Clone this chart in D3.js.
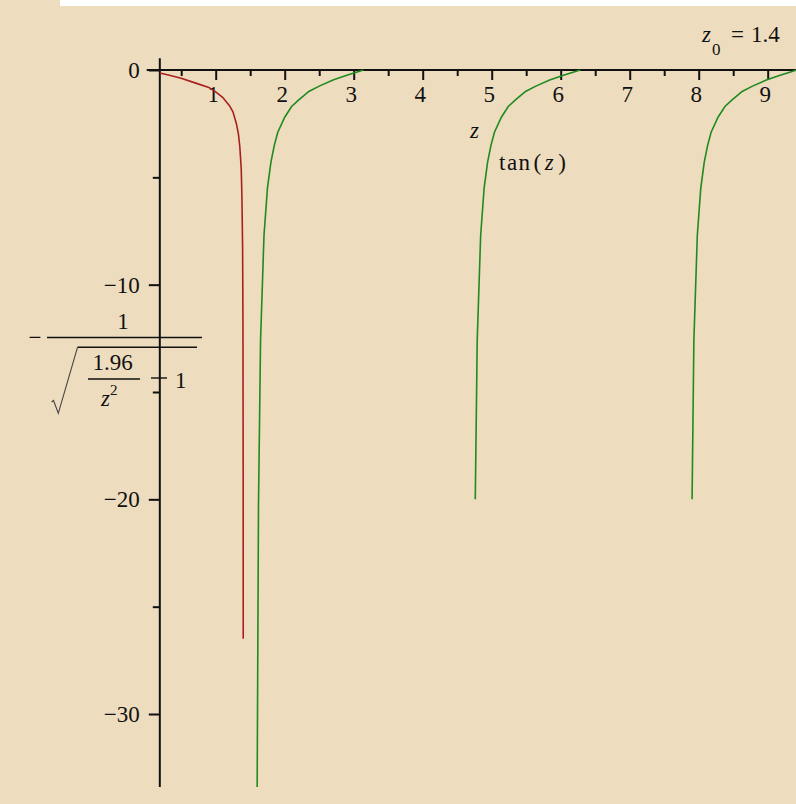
<!DOCTYPE html>
<html>
<head>
<meta charset="utf-8">
<script src="https://cdn.jsdelivr.net/npm/d3@7"></script>
<style>
  html, body { margin: 0; padding: 0; background: #fff; }
  #chart { width: 796px; height: 804px; }
  svg text { font-family: "Liberation Serif", "Times New Roman", serif; fill: #111; }
</style>
</head>
<body>
<div id="chart"></div>
<script>
// tick labels
const xTicks = [1, 2, 3, 4, 5, 6, 7, 8, 9];
const xMinorTicks = [0.5, 1.5, 2.5, 3.5, 4.5, 5.5, 6.5, 7.5, 8.5];
const yTicks = [0, -10, -20, -30];
const yMinorTicks = [-5, -15, -25];

// -1/sqrt(1.96/z^2 - 1)
const redZ = [0.19, 0.3, 0.5, 0.7, 0.9, 1.0, 1.1, 1.2, 1.25, 1.3, 1.33, 1.35, 1.37, 1.38, 1.39, 1.395, 1.398, 1.399];
const redV = [-0.14, -0.22, -0.38, -0.60, -0.81, -1.02, -1.27, -1.66, -1.95, -2.5, -3.0, -3.6, -4.6, -5.9, -8.3, -11.8, -18.7, -26.5];

// tan(z), three branches
const tan1Z = [1.601, 1.62, 1.65, 1.70, 1.75, 1.80, 1.85, 1.90, 2.00, 2.10, 2.20, 2.35, 2.50, 2.70, 2.90, 3.05, 3.14];
const tan1V = [-33.4, -20.3, -12.6, -7.7, -5.5, -4.3, -3.5, -2.9, -2.2, -1.7, -1.4, -1.0, -0.75, -0.47, -0.25, -0.09, 0];
const tan2Z = [4.762, 4.79, 4.84, 4.89, 4.94, 4.99, 5.04, 5.14, 5.24, 5.34, 5.49, 5.64, 5.84, 6.04, 6.19, 6.283];
const tan2V = [-20.0, -12.6, -7.7, -5.5, -4.3, -3.5, -2.9, -2.2, -1.7, -1.4, -1.0, -0.75, -0.47, -0.25, -0.09, 0];
const tan3Z = [7.904, 7.93, 7.98, 8.03, 8.08, 8.13, 8.18, 8.28, 8.38, 8.48, 8.63, 8.78, 8.98, 9.18, 9.33, 9.42];
const tan3V = [-20.0, -12.6, -7.7, -5.5, -4.3, -3.5, -2.9, -2.2, -1.7, -1.4, -1.0, -0.75, -0.47, -0.25, -0.09, 0];

const zMin = 0, zMax = 9.43;      // x view
const yAxisAt = 0.19;             // where the vertical axis is drawn
const vTop = 0.55, vBottom = -33.4;

const svgWidth = 796, svgHeight = 804;
const fontSize = "23px";

const svg = d3.select("#chart")
  .append("svg")
  .attr("width", svgWidth)
  .attr("height", svgHeight);

// background
svg.append("rect")
  .attr("width", svgWidth)
  .attr("height", svgHeight)
  .attr("fill", "#eedcbe");

svg.append("rect")
  .attr("x", 60)
  .attr("width", svgWidth - 60)
  .attr("height", 6)
  .attr("fill", "#fff");

// scales
const x = d3.scaleLinear().domain([1, 9]).range([215.7, 767.7]);
const y = d3.scaleLinear().domain([0, -30]).range([70, 714]);

// x axis
const xAxisG = svg.append("g").attr("transform", `translate(0, ${y(0)})`);

xAxisG.append("g")
  .call(d3.axisBottom(x).tickValues(xTicks).tickSize(10).tickPadding(6).tickFormat(d3.format("d")))
  .call(g => g.select(".domain").remove());

xAxisG.append("g")
  .call(d3.axisBottom(x).tickValues(xMinorTicks).tickSize(6).tickFormat(""))
  .call(g => g.select(".domain").remove());

xAxisG.append("line")
  .attr("x1", x(zMin))
  .attr("x2", x(zMax))
  .attr("stroke", "#111")
  .attr("stroke-width", 2);

// y axis
const yAxisG = svg.append("g").attr("transform", `translate(${x(yAxisAt)}, 0)`);

yAxisG.append("g")
  .call(d3.axisLeft(y).tickValues(yTicks).tickSize(11).tickPadding(9).tickFormat(d => d === 0 ? "0" : "\u2212" + Math.abs(d)))
  .call(g => g.select(".domain").remove());

yAxisG.append("g")
  .call(d3.axisLeft(y).tickValues(yMinorTicks).tickSize(7).tickFormat(""))
  .call(g => g.select(".domain").remove());

yAxisG.append("line")
  .attr("y1", y(vTop))
  .attr("y2", y(vBottom))
  .attr("stroke", "#111")
  .attr("stroke-width", 2);

svg.selectAll(".tick line").attr("stroke", "#111").attr("stroke-width", 2);
svg.selectAll(".tick text")
  .style("font-size", fontSize)
  .style("font-family", "'Liberation Serif', serif")
  .attr("fill", "#111");
xAxisG.selectAll(".tick text").attr("dx", "-3");

// curves
const line = d3.line()
  .x(d => x(d[0]))
  .y(d => y(d[1]));

const zip = (zs, vs) => zs.map((z, i) => [z, vs[i]]);

svg.append("path")
  .datum(zip(redZ, redV))
  .attr("fill", "none")
  .attr("stroke", "#a8201e")
  .attr("stroke-width", 1.6)
  .attr("d", line);

[zip(tan1Z, tan1V), zip(tan2Z, tan2V), zip(tan3Z, tan3V)].forEach(branch => {
  svg.append("path")
    .datum(branch)
    .attr("fill", "none")
    .attr("stroke", "#1f8a1f")
    .attr("stroke-width", 1.6)
    .attr("d", line);
});

// curve labels
svg.append("text")
  .attr("x", 470)
  .attr("y", 138)
  .style("font-size", fontSize)
  .style("font-style", "italic")
  .text("z");

const tanLabel = svg.append("text")
  .attr("x", 499)
  .attr("y", 170)
  .style("font-size", fontSize)
  .style("letter-spacing", "1.5px");
tanLabel.append("tspan").text("tan");
tanLabel.append("tspan").attr("dx", 2).text("(");
tanLabel.append("tspan").attr("dx", 2).style("font-style", "italic").text("z");
tanLabel.append("tspan").attr("dx", 3).text(")");

// title z0 = 1.4
const title = svg.append("text")
  .attr("y", 42)
  .style("font-size", fontSize);
title.append("tspan").attr("x", 702).style("font-style", "italic").text("z");
title.append("tspan").attr("x", 712).attr("dy", 13).style("font-size", "17px").text("0");
title.append("tspan").attr("x", 731).attr("dy", -13).text("=");
title.append("tspan").attr("x", 751).text("1.4");

// y axis label: -1/sqrt(1.96/z^2 - 1)
const lab = svg.append("g");

lab.append("text")
  .attr("x", 35)
  .attr("y", 345)
  .attr("text-anchor", "middle")
  .style("font-size", fontSize)
  .text("\u2212");

lab.append("text")
  .attr("x", 123)
  .attr("y", 329)
  .attr("text-anchor", "middle")
  .style("font-size", fontSize)
  .text("1");

lab.append("line")
  .attr("x1", 47).attr("x2", 202)
  .attr("y1", 337.5).attr("y2", 337.5)
  .attr("stroke", "#111")
  .attr("stroke-width", 1.6);

lab.append("path")
  .attr("d", "M51.5,402 L53.5,400.5 L58.3,413.3 L77.5,347.3")
  .attr("fill", "none")
  .attr("stroke", "#444")
  .attr("stroke-width", 1.1);

lab.append("line")
  .attr("x1", 77.5).attr("x2", 197)
  .attr("y1", 347.3).attr("y2", 347.3)
  .attr("stroke", "#111")
  .attr("stroke-width", 1.6);

lab.append("text")
  .attr("x", 112.5)
  .attr("y", 370)
  .attr("text-anchor", "middle")
  .style("font-size", fontSize)
  .text("1.96");

lab.append("line")
  .attr("x1", 88).attr("x2", 140)
  .attr("y1", 379).attr("y2", 379)
  .attr("stroke", "#111")
  .attr("stroke-width", 1.6);

const zsq = lab.append("text")
  .attr("x", 101)
  .attr("y", 406)
  .style("font-size", fontSize);
zsq.append("tspan").style("font-style", "italic").text("z");
zsq.append("tspan").attr("dy", -11).style("font-size", "15px").text("2");

lab.append("line")
  .attr("x1", 151).attr("x2", 167)
  .attr("y1", 378).attr("y2", 378)
  .attr("stroke", "#111")
  .attr("stroke-width", 1.4);

lab.append("text")
  .attr("x", 175)
  .attr("y", 388)
  .style("font-size", fontSize)
  .text("1");
</script>
</body>
</html>
